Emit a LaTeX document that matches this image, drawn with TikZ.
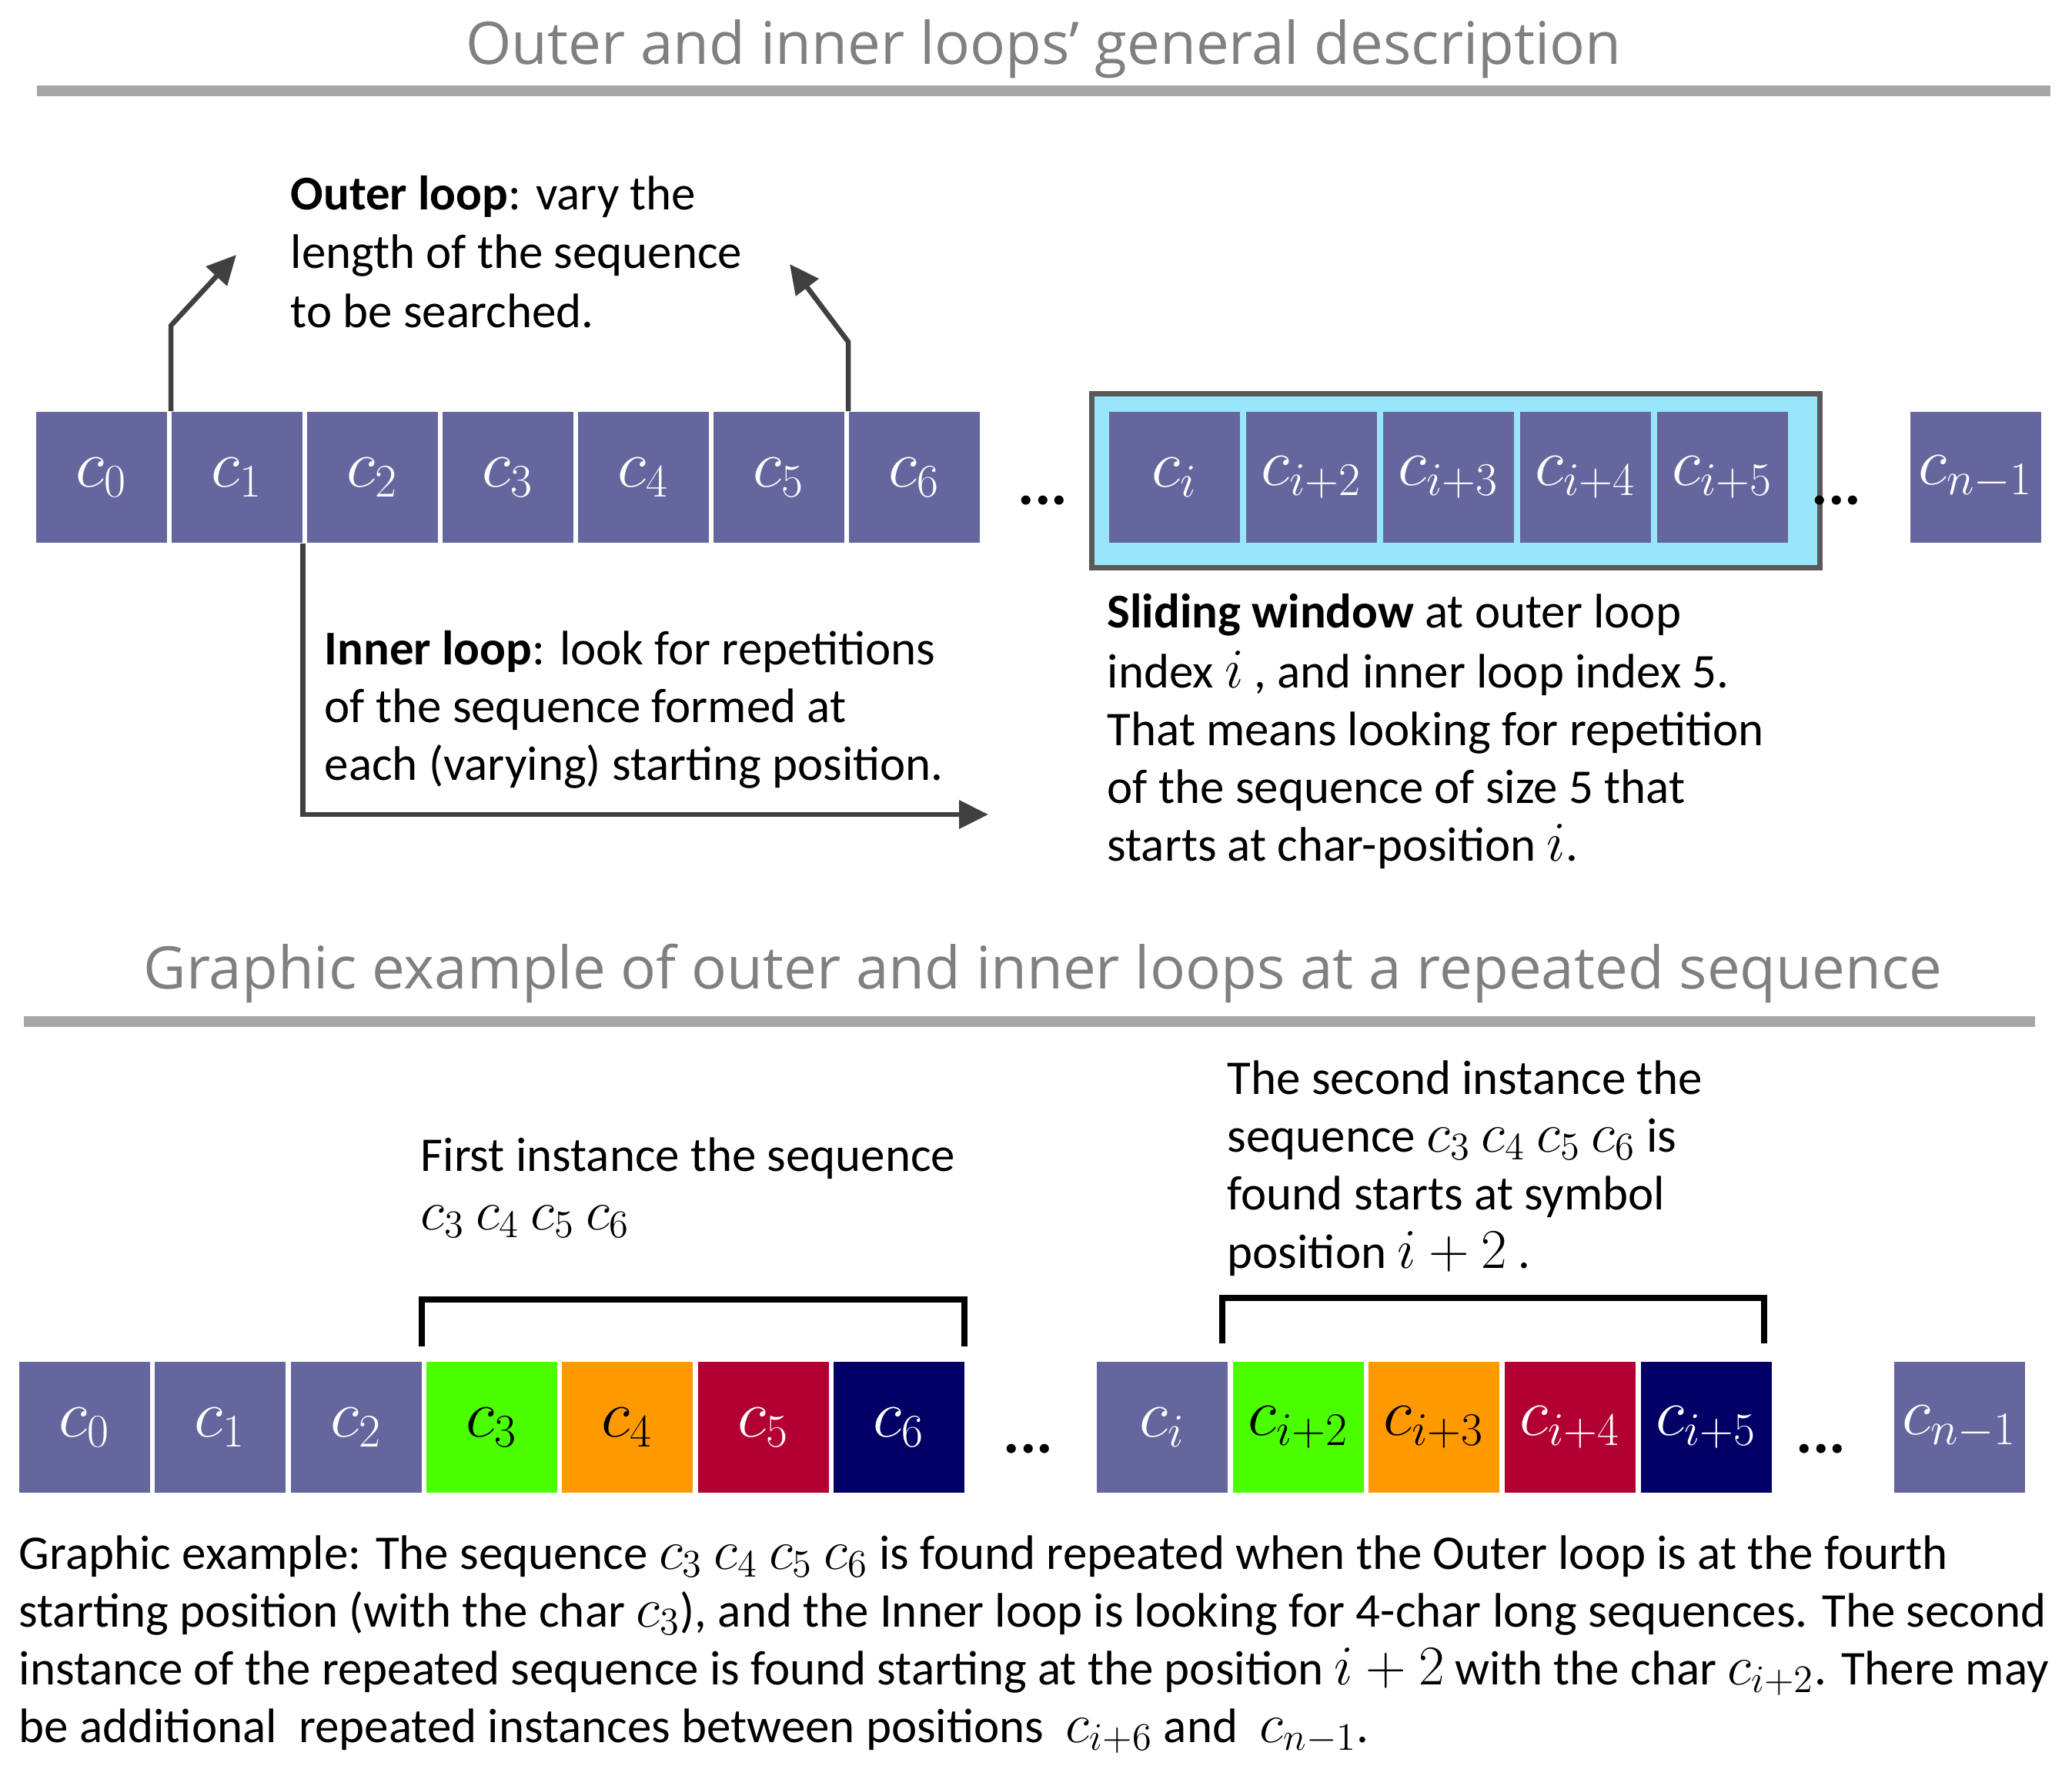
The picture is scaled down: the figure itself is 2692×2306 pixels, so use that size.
\documentclass[tikz,border=0pt]{standalone}
\usepackage{fontspec}
\setmainfont{Carlito}
\newfontfamily\titlefont{Open Sans}
\usetikzlibrary{arrows.meta}
\definecolor{purp}{RGB}{102,102,158}
\definecolor{cgreen}{RGB}{76,255,0}
\definecolor{corange}{RGB}{255,153,0}
\definecolor{cred}{RGB}{179,0,51}
\definecolor{cnavy}{RGB}{0,0,102}
\definecolor{ccyan}{RGB}{153,230,250}
\definecolor{wingray}{RGB}{89,89,89}
\definecolor{arrgray}{RGB}{64,64,64}
\definecolor{titlegray}{RGB}{128,128,128}
\definecolor{rulegray}{RGB}{166,166,166}
\newcommand{\mc}[1]{{\fontsize{20.5}{21}\selectfont$#1$}}
\begin{document}
\begin{tikzpicture}[x=0.01cm,y=-0.01cm,
  cbox/.style={rectangle, draw=none, fill=purp, text=white, minimum width=1.7cm, minimum height=1.7cm, inner sep=0pt, anchor=north west, font=\fontsize{25}{28}\selectfont},
  txt/.style={anchor=base west, inner sep=0pt, font=\fontsize{17.9}{21}\selectfont},
  ttl/.style={anchor=base, inner sep=0pt, text=titlegray, font=\titlefont\fontsize{21.7}{26}\selectfont},
  rulebar/.style={draw=rulegray, line width=4pt},
  arr/.style={draw=arrgray, line width=1.85pt, -{Triangle[length=0.38cm,width=0.36cm]}},
  bracket/.style={draw=black, line width=2.3pt},
  dots/.style={anchor=base, inner sep=0pt, font=\bfseries\fontsize{23}{26}\selectfont},
  win/.style={draw=wingray, line width=2pt, fill=ccyan, anchor=north west, minimum width=9.45cm, minimum height=2.26cm, inner sep=0pt}
]
\useasboundingbox (0,0) rectangle (2692,2306);

% titles
\node[ttl] (title1) at (1356,84) {Outer and inner loops’ general description};
\draw[rulebar] (48,118) -- (2664,118);
\node[ttl] (title2) at (1355,1284) {Graphic example of outer and inner loops at a repeated sequence};
\draw[rulebar] (31,1327) -- (2644,1327);

% top row
\node[cbox] (t0) at (46,534) {$c_0$};
\node[cbox] (t1) at (222,534) {$c_1$};
\node[cbox] (t2) at (398,534) {$c_2$};
\node[cbox] (t3) at (574,534) {$c_3$};
\node[cbox] (t4) at (750,534) {$c_4$};
\node[cbox] (t5) at (926,534) {$c_5$};
\node[cbox] (t6) at (1102,534) {$c_6$};
\node[dots] (tdots1) at (1355,655) {...};
\node[win] (win) at (1415,508) {};
\node[cbox] (ti) at (1440,534) {$c_i$};
\node[cbox] (ti2) at (1618,534) {$c_{i+2}$};
\node[cbox] (ti3) at (1796,534) {$c_{i+3}$};
\node[cbox] (ti4) at (1974,534) {$c_{i+4}$};
\node[cbox] (ti5) at (2152,534) {$c_{i+5}$};
\node[dots] (tdots2) at (2386,655) {...};
\node[cbox] (tn) at (2481,534) {$c_{n-1}$};

% arrows
\coordinate (oltip) at (307,331);
\coordinate (ortip) at (1026,343);
\coordinate (iltip) at (1284,1058);
\draw[arr] (t1.north west) -- ++(0,-111) -- (oltip);
\draw[arr] (t6.north west) -- ++(0,-90) -- (ortip);
\draw[arr] (t1.south east) |- (iltip);

% outer loop text
\node[txt] (ol1) at (377,272) {\textbf{Outer loop}: vary the};
\node[txt] (ol2) at (377,348) {length of the sequence};
\node[txt] (ol3) at (377,425) {to be searched.};

% inner loop text
\node[txt] (il1) at (421,863) {\textbf{Inner loop}: look for repetitions};
\node[txt] (il2) at (421,938) {of the sequence formed at};
\node[txt] (il3) at (421,1013) {each (varying) starting position.};

% sliding window text
\node[txt] (sw1) at (1438,815) {\textbf{Sliding window} at outer loop};
\node[txt] (sw2) at (1438,893) {index \mc{i} , and inner loop index 5.};
\node[txt] (sw3) at (1438,968) {That means looking for repetition};
\node[txt] (sw4) at (1438,1043) {of the sequence of size 5 that};
\node[txt] (sw5) at (1438,1118) {starts at char-position \mc{i}.};

% bottom row
\node[cbox] (b0) at (24,1768) {$c_0$};
\node[cbox] (b1) at (200,1768) {$c_1$};
\node[cbox] (b2) at (377,1768) {$c_2$};
\node[cbox, fill=cgreen, text=black] (b3) at (553,1768) {$c_3$};
\node[cbox, fill=corange, text=black] (b4) at (729,1768) {$c_4$};
\node[cbox, fill=cred] (b5) at (906,1768) {$c_5$};
\node[cbox, fill=cnavy] (b6) at (1082,1768) {$c_6$};
\node[dots] (bdots1) at (1336,1887) {...};
\node[cbox] (bi) at (1424,1768) {$c_i$};
\node[cbox, fill=cgreen, text=black] (bi2) at (1601,1768) {$c_{i+2}$};
\node[cbox, fill=corange, text=black] (bi3) at (1777,1768) {$c_{i+3}$};
\node[cbox, fill=cred] (bi4) at (1954,1768) {$c_{i+4}$};
\node[cbox, fill=cnavy] (bi5) at (2131,1768) {$c_{i+5}$};
\node[dots] (bdots2) at (2366,1887) {...};
\node[cbox] (bn) at (2460,1768) {$c_{n-1}$};

% brackets
\draw[bracket] (548,1749) -- (548,1688) -- (1253,1688) -- (1253,1749);
\draw[bracket] (1588,1745) -- (1588,1686) -- (2292,1686) -- (2292,1745);

% first instance text
\node[txt] (fi1) at (546,1521) {First instance the sequence};
\node[txt] (fi2) at (546,1597) {\mc{c_3} \mc{c_4} \mc{c_5} \mc{c_6}};

% second instance text
\node[txt] (si1) at (1594,1421) {The second instance the};
\node[txt] (si2) at (1594,1496) {sequence \mc{c_3} \mc{c_4} \mc{c_5} \mc{c_6} is};
\node[txt] (si3) at (1594,1571) {found starts at symbol};
\node[txt] (si4) at (1594,1647) {position \mc{i+2} .};

% bottom paragraph
\node[txt] (p1) at (24,2038) {Graphic example: The sequence \mc{c_3} \mc{c_4} \mc{c_5} \mc{c_6} is found repeated when the Outer loop is at the fourth};
\node[txt] (p2) at (24,2113) {starting position (with the char \mc{c_3}), and the Inner loop is looking for 4-char long sequences. The second};
\node[txt] (p3) at (24,2188) {instance of the repeated sequence is found starting at the position \mc{i+2} with the char \mc{c_{i+2}}. There may};
\node[txt] (p4) at (24,2263) {be additional\ \ repeated instances between positions\ \ \mc{c_{i+6}} and\ \ \mc{c_{n-1}}.};
\end{tikzpicture}
\end{document}
